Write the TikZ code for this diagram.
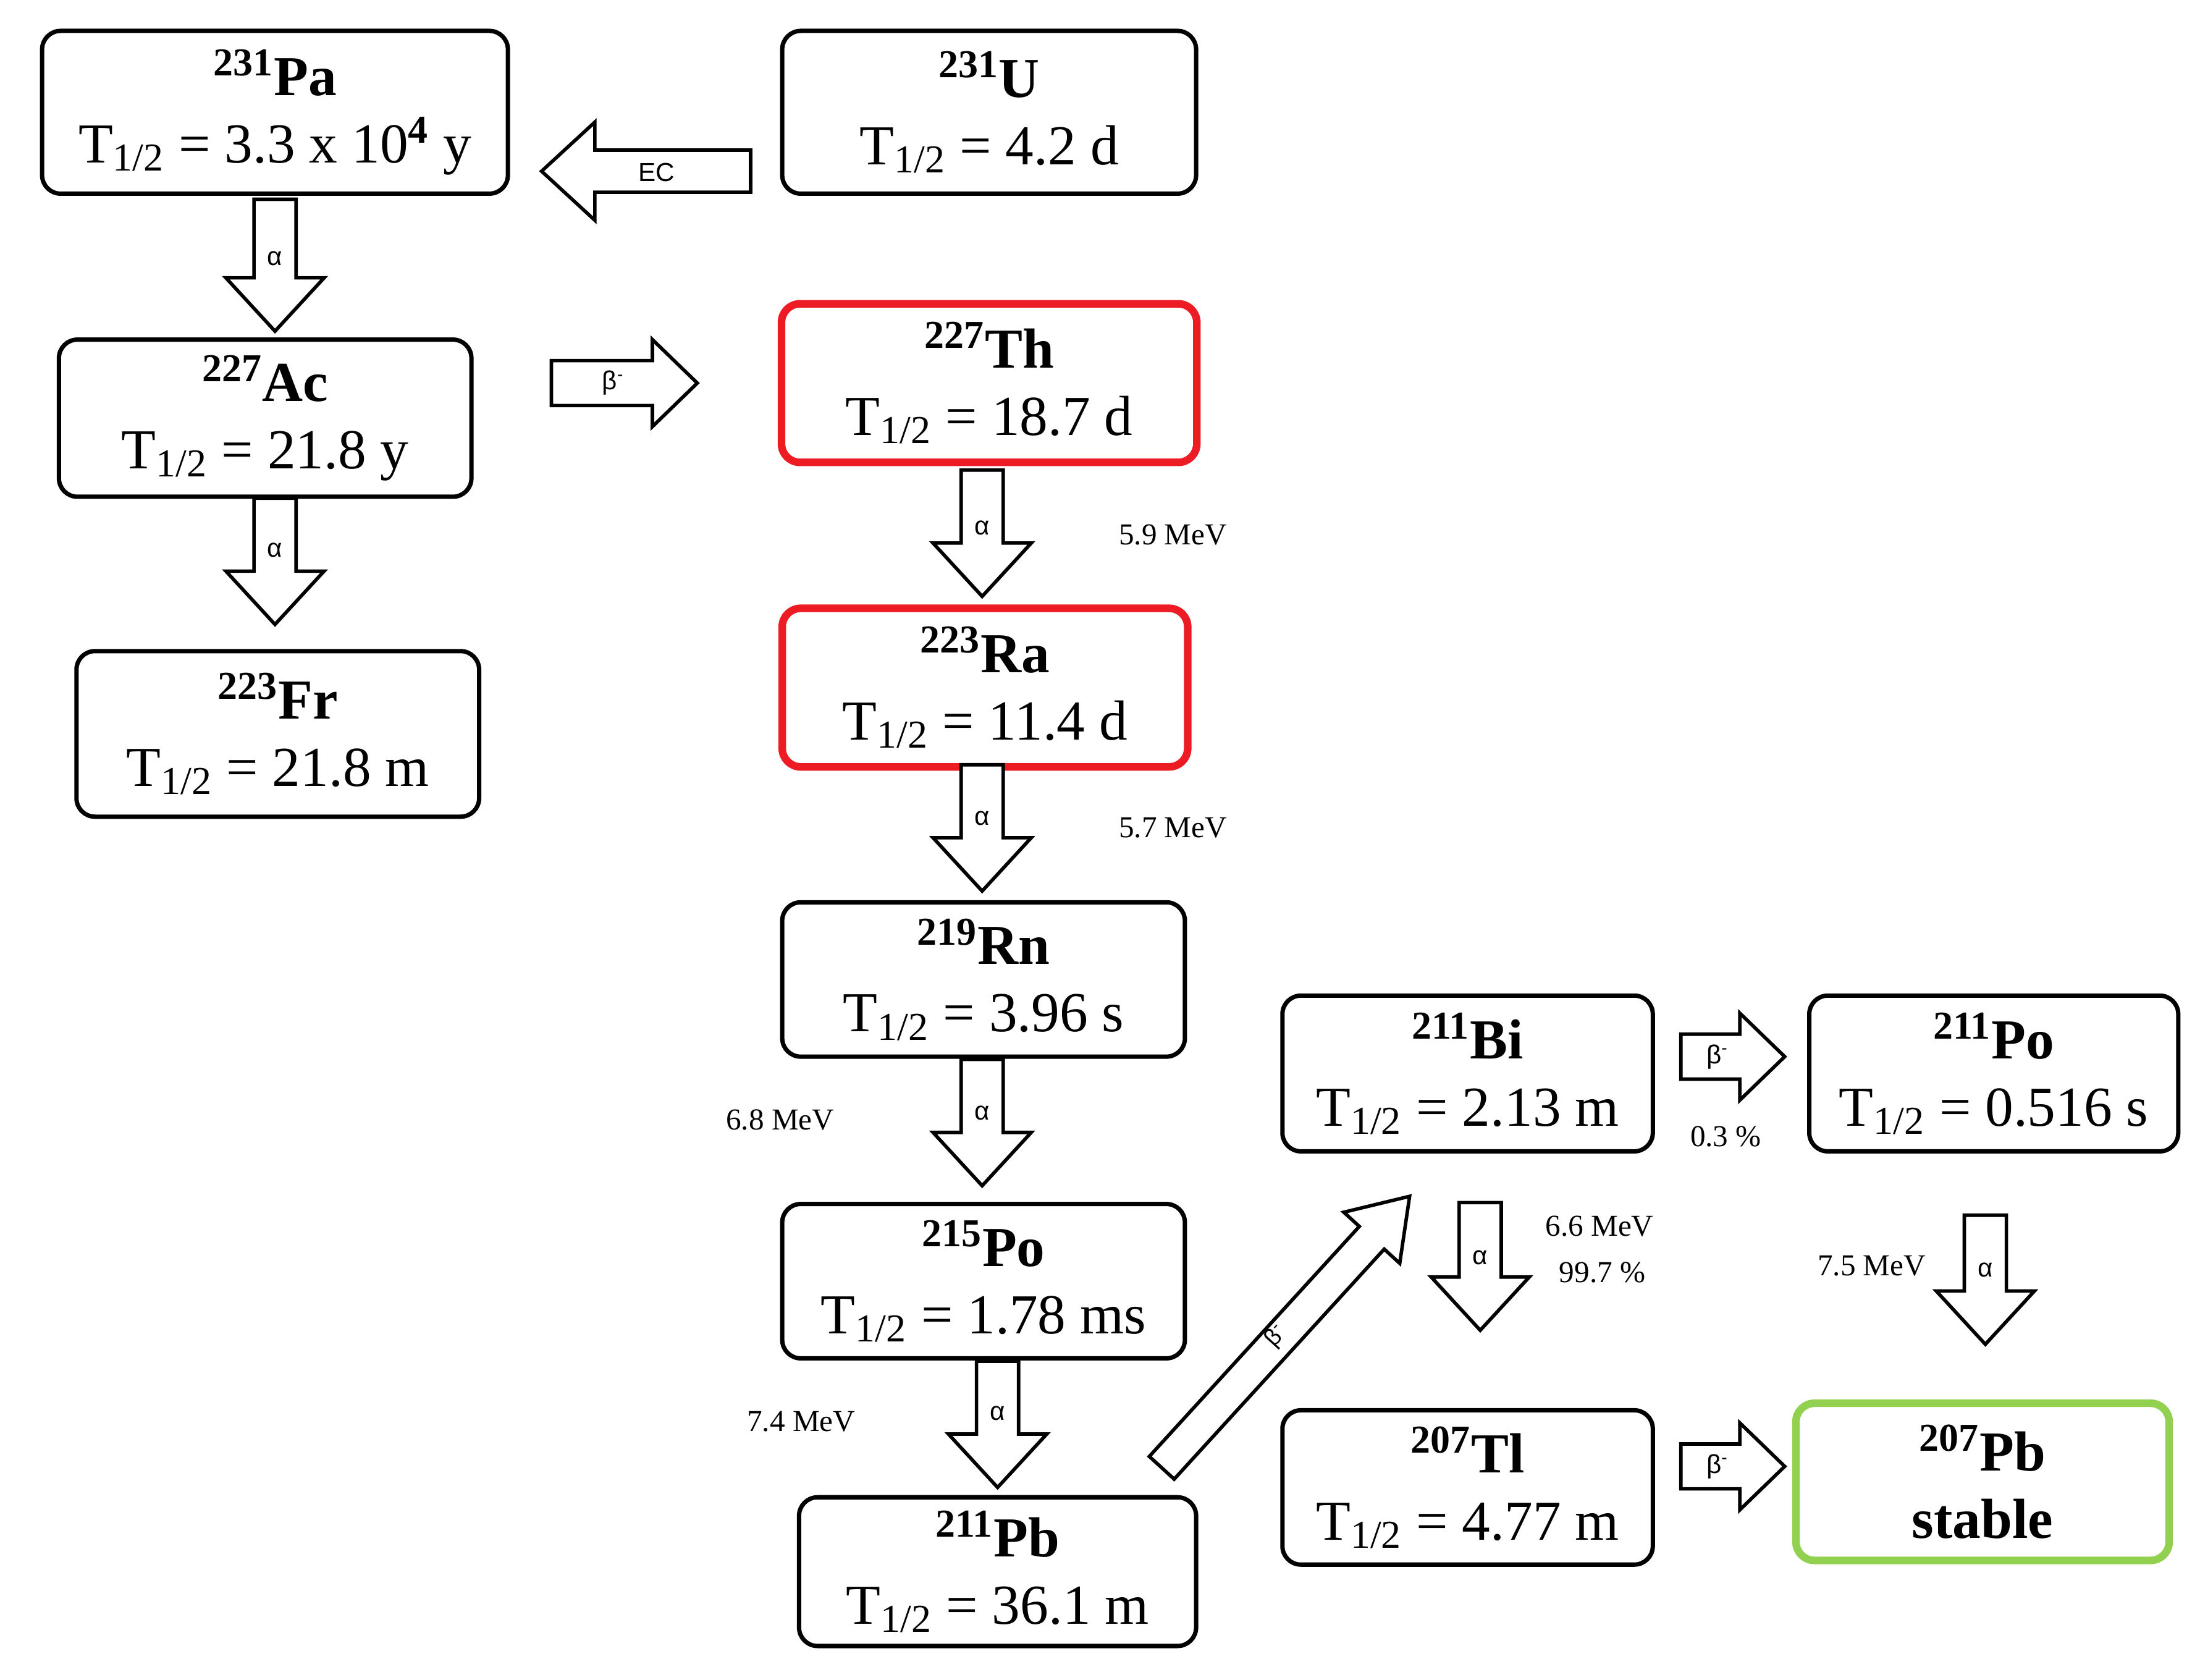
\documentclass[tikz,border=0pt]{standalone}
\usepackage{fontspec}
\setmainfont{Liberation Serif}
\newfontfamily\lsans{Liberation Sans}
\begin{document}
\begin{tikzpicture}[x=0.02271cm,y=-0.02271cm,
  box/.style={draw, line width=2pt, rounded corners=0.3cm, align=center, inner sep=0pt,
     font=\fontsize{26}{31}\selectfont},
  red/.style={draw={rgb,255:red,237;green,28;blue,36}, line width=3.5pt},
  grn/.style={draw={rgb,255:red,146;green,208;blue,80}, line width=3.5pt},
  sz/.style 2 args={minimum width=#1*0.02271cm, minimum height=#2*0.02271cm},
  ar/.style={draw, fill=white, line width=1.6pt, line join=miter},
  lab/.style={font=\fontsize{14}{16}\selectfont},
  sym/.style={font=\lsans\fontsize{12}{14}\selectfont},
  pics/barrow/.style={code={\path[ar] (0,-15) -- ({#1-38},-15) -- ({#1-38},-35) -- (#1,0) -- ({#1-38},35) -- ({#1-38},15) -- (0,15) -- cycle;}},
  pics/sarrow/.style={code={\path[ar] (0,-16) -- ({#1-32},-16) -- ({#1-32},-31) -- (#1,0) -- ({#1-32},31) -- ({#1-32},16) -- (0,16) -- cycle;}},
  pics/darrow/.style={code={\path[ar] (0,-12) -- ({#1-40},-12) -- ({#1-40},-27) -- (#1,0) -- ({#1-40},27) -- ({#1-40},12) -- (0,12) -- cycle;}},
]
\path[use as bounding box] (0,0) rectangle (1568,1197);

\node[box, sz={332}{116}] (pa) at (196,80) {\textsuperscript{\textbf{231}}\textbf{Pa}\\T\textsubscript{1/2} = 3.3 x 10\textsuperscript{\textbf{4}} y};
\node[box, sz={295}{116}] (u) at (705,80) {\textsuperscript{\textbf{231}}\textbf{U}\\T\textsubscript{1/2} = 4.2 d};
\node[box, sz={294}{112}] (ac) at (189,298) {\textsuperscript{\textbf{227}}\textbf{Ac}\\T\textsubscript{1/2} = 21.8 y};
\node[box, sz={287}{118}] (fr) at (198,523) {\textsuperscript{\textbf{223}}\textbf{Fr}\\T\textsubscript{1/2} = 21.8 m};
\node[box, red, sz={296}{113}] (th) at (705,273) {\textsuperscript{\textbf{227}}\textbf{Th}\\T\textsubscript{1/2} = 18.7 d};
\node[box, red, sz={289}{113}] (ra) at (702,490) {\textsuperscript{\textbf{223}}\textbf{Ra}\\T\textsubscript{1/2} = 11.4 d};
\node[box, sz={287}{110}] (rn) at (701,698) {\textsuperscript{\textbf{219}}\textbf{Rn}\\T\textsubscript{1/2} = 3.96 s};
\node[box, sz={287}{110}] (po) at (701,913) {\textsuperscript{\textbf{215}}\textbf{Po}\\T\textsubscript{1/2} = 1.78 ms};
\node[box, sz={283}{106}] (pb) at (711,1120) {\textsuperscript{\textbf{211}}\textbf{Pb}\\T\textsubscript{1/2} = 36.1 m};
\node[box, sz={264}{111}] (bi) at (1046,765) {\textsuperscript{\textbf{211}}\textbf{Bi}\\T\textsubscript{1/2} = 2.13 m};
\node[box, sz={263}{111}] (po2) at (1421,765) {\textsuperscript{\textbf{211}}\textbf{Po}\\T\textsubscript{1/2} = 0.516 s};
\node[box, sz={264}{110}] (tl) at (1046,1060) {\textsuperscript{\textbf{207}}\textbf{Tl}\\T\textsubscript{1/2} = 4.77 m};
\node[box, grn, sz={266}{112}] (pbs) at (1413,1056) {\textsuperscript{\textbf{207}}\textbf{Pb}\\\textbf{stable}};

% arrows
\path (535,122) pic[rotate=180] {barrow=149};
\node[sym] (ec) at (468,123) {EC};
\path (196,142) pic[rotate=-90] {barrow=94};
\node[sym] (a1) at (196,184) {α};
\path (196,355) pic[rotate=-90] {barrow=90};
\node[sym] (a2) at (196,392) {α};
\path (393,273) pic {sarrow=104};
\node[sym] (b1) at (437,273) {β\textsuperscript{-}};
\path (700,335) pic[rotate=-90] {barrow=90};
\node[sym] (a3) at (700,376) {α};
\path (700,545) pic[rotate=-90] {barrow=90};
\node[sym] (a4) at (700,583) {α};
\path (700,755) pic[rotate=-90] {barrow=90};
\node[sym] (a5) at (700,793) {α};
\path (711,970) pic[rotate=-90] {barrow=90};
\node[sym] (a6) at (711,1007) {α};
\path (1055,857) pic[rotate=-90] {barrow=91};
\node[sym] (a7) at (1055,896) {α};
\path (1415,866) pic[rotate=-90] {barrow=92};
\node[sym] (a8) at (1415,905) {α};
\path (1198,753) pic {sarrow=74};
\node[sym] (b2) at (1224,753) {β\textsuperscript{-}};
\path (1198,1045) pic {sarrow=74};
\node[sym] (b3) at (1224,1045) {β\textsuperscript{-}};
\path (828,1046) pic[rotate=47.6] {darrow=262};
\node[sym, rotate=47.6, inner sep=0pt, font=\lsans\fontsize{11}{13}\selectfont] (b4) at (910,952) {β\textsuperscript{-}};

% energy labels
\node[lab] (e1) at (836,381) {5.9 MeV};
\node[lab] (e2) at (836,590) {5.7 MeV};
\node[lab] (e3) at (556,798) {6.8 MeV};
\node[lab] (e4) at (571,1013) {7.4 MeV};
\node[lab] (p1) at (1230,810) {0.3 \%};
\node[lab] (e5) at (1140,874) {6.6 MeV};
\node[lab] (p2) at (1142,907) {99.7 \%};
\node[lab] (e6) at (1334,902) {7.5 MeV};
\end{tikzpicture}
\end{document}
